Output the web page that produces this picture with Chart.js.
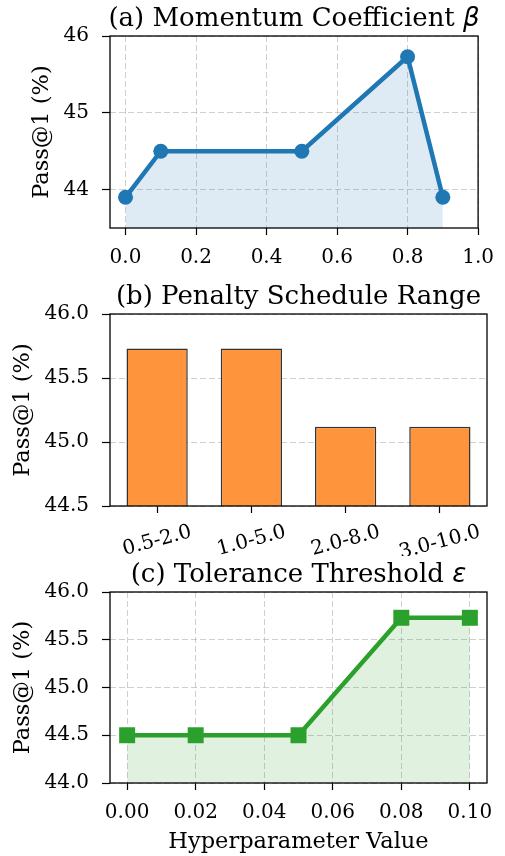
<!DOCTYPE html>
<html>
<head>
<meta charset="utf-8">
<script src="https://cdn.jsdelivr.net/npm/chart.js@4.4.1/dist/chart.umd.min.js"></script>
<style>
  html, body { margin: 0; padding: 0; background: #fff; }
  #wrap { position: relative; width: 505px; height: 856px; }
  canvas { position: absolute; left: 0; }
</style>
</head>
<body>
<div id="wrap">
  <canvas id="chartA" width="505" height="278" style="top:0"></canvas>
  <canvas id="chartB" width="505" height="278" style="top:278px"></canvas>
  <canvas id="chartC" width="505" height="300" style="top:556px"></canvas>
</div>
<script>
// (a) momentum coefficient
const momentumX = [0.0, 0.1, 0.5, 0.8, 0.9];
const momentumY = [43.9, 44.5, 44.5, 45.73, 43.9];
const momentumXTicks = [0.0, 0.2, 0.4, 0.6, 0.8, 1.0];
const momentumYTicks = [44, 45, 46];

// (b) penalty schedule range
const penaltyLabels = ['0.5-2.0', '1.0-5.0', '2.0-8.0', '3.0-10.0'];
const penaltyY = [45.73, 45.73, 45.12, 45.12];
const penaltyYTicks = [44.5, 45.0, 45.5, 46.0];

// (c) tolerance threshold
const toleranceX = [0.00, 0.02, 0.05, 0.08, 0.10];
const toleranceY = [44.5, 44.5, 44.5, 45.73, 45.73];
const toleranceXTicks = [0.00, 0.02, 0.04, 0.06, 0.08, 0.10];
const toleranceYTicks = [44.0, 44.5, 45.0, 45.5, 46.0];

const FONT = 'DejaVu Serif';
const TICK_SIZE = 20;
const LABEL_SIZE = 22.5;
const gridColor = 'rgba(175,175,175,0.6)';

// black frame round the plot area, like the matplotlib spines
const framePlugin = {
  id: 'frame',
  afterDatasetsDraw(chart) {
    const { ctx, chartArea: a } = chart;
    ctx.save();
    ctx.strokeStyle = '#000';
    ctx.lineWidth = 1.3;
    ctx.strokeRect(a.left, a.top, a.right - a.left, a.bottom - a.top);
    ctx.restore();
  }
};

// panel title: serif text followed by an italic greek symbol
const panelTitle = {
  id: 'panelTitle',
  afterDraw(chart, args, opts) {
    const { ctx, chartArea: a } = chart;
    const mainFont = '26px "' + FONT + '"';
    const symFont = 'italic 26px "DejaVu Sans"';
    ctx.save();
    ctx.fillStyle = '#000';
    ctx.textBaseline = 'alphabetic';
    ctx.textAlign = 'left';
    ctx.font = mainFont;
    const w1 = ctx.measureText(opts.main).width;
    ctx.font = symFont;
    const w2 = opts.symbol ? ctx.measureText(opts.symbol).width : 0;
    const x0 = (a.left + a.right) / 2 - (w1 + w2) / 2;
    const y = a.top - 10;
    ctx.font = mainFont;
    ctx.fillText(opts.main, x0, y);
    if (opts.symbol) {
      ctx.font = symFont;
      ctx.fillText(opts.symbol, x0 + w1, y);
    }
    ctx.restore();
  }
};

// rotated, centred category labels for the bar panel
const rotatedLabels = {
  id: 'rotatedLabels',
  afterDraw(chart) {
    const { ctx } = chart;
    const xs = chart.scales.x;
    const ang = 15 * Math.PI / 180;
    ctx.save();
    ctx.font = TICK_SIZE + 'px "' + FONT + '"';
    ctx.fillStyle = '#000';
    ctx.textAlign = 'center';
    ctx.textBaseline = 'middle';
    penaltyLabels.forEach((lab, i) => {
      const w = ctx.measureText(lab).width;
      const bh = w * Math.sin(ang) + TICK_SIZE * Math.cos(ang);
      const x = xs.getPixelForValue(i);
      const y = xs.top + 16 + bh / 2;
      ctx.save();
      ctx.translate(x, y);
      ctx.rotate(-ang);
      ctx.fillText(lab, 0, 0);
      ctx.restore();
    });
    ctx.restore();
  }
};

function yAxis(min, max, ticks, digits, titlePad) {
  return {
    type: 'linear',
    min: min,
    max: max,
    afterBuildTicks: s => { s.ticks = ticks.map(v => ({ value: v })); },
    afterFit: s => { s.width = 110; },
    ticks: {
      color: '#000',
      padding: 13,
      font: { family: FONT, size: TICK_SIZE },
      callback: v => Number(v).toFixed(digits)
    },
    grid: {
      display: true,
      color: gridColor,
      lineWidth: 1,
      tickLength: 8,
      tickColor: '#000',
      tickWidth: 1.2,
      tickBorderDash: []
    },
    border: { display: false, dash: [6, 3] },
    title: {
      display: true,
      text: 'Pass@1 (%)',
      color: '#000',
      font: { family: FONT, size: LABEL_SIZE, lineHeight: 1.2 },
      padding: { top: titlePad, bottom: 0 }
    }
  };
}

function xLinear(min, max, ticks, digits, height, title) {
  const ax = {
    type: 'linear',
    min: min,
    max: max,
    afterBuildTicks: s => { s.ticks = ticks.map(v => ({ value: v })); },
    afterFit: s => { s.height = height; },
    ticks: {
      color: '#000',
      padding: 11,
      maxRotation: 0,
      font: { family: FONT, size: TICK_SIZE },
      callback: v => Number(v).toFixed(digits)
    },
    grid: {
      color: gridColor,
      lineWidth: 1,
      tickLength: 7,
      tickColor: '#000',
      tickWidth: 1.2,
      tickBorderDash: []
    },
    border: { display: false, dash: [6, 3] }
  };
  if (title) {
    ax.title = {
      display: true,
      text: title,
      color: '#000',
      font: { family: FONT, size: LABEL_SIZE, lineHeight: 1.2 },
      padding: { top: 0, bottom: 0 }
    };
  }
  return ax;
}

const baseOptions = {
  responsive: false,
  animation: false,
  layout: { padding: { left: 0, right: 18, top: 36, bottom: 0 } },
  events: []
};

// (a)
new Chart(document.getElementById('chartA'), {
  type: 'line',
  data: {
    datasets: [{
      data: momentumX.map((x, i) => ({ x: x, y: momentumY[i] })),
      borderColor: '#1f77b4',
      backgroundColor: 'rgba(31,119,180,0.15)',
      pointBackgroundColor: '#1f77b4',
      pointBorderWidth: 0,
      pointRadius: 7.5,
      borderWidth: 4.5,
      fill: 'start',
      tension: 0
    }]
  },
  options: Object.assign({}, baseOptions, {
    plugins: { legend: { display: false }, tooltip: { enabled: false },
      panelTitle: { main: '(a) Momentum Coefficient ', symbol: 'β' } },
    scales: {
      x: xLinear(-0.044, 1.0, momentumXTicks, 1, 50, null),
      y: yAxis(43.5, 46, momentumYTicks, 0, 28.5)
    }
  }),
  plugins: [framePlugin, panelTitle]
});

// (b)
const xB = {
  type: 'category',
  offset: true,
  afterFit: s => { s.height = 50; },
  ticks: { display: false },
  grid: {
    offset: false,
    drawOnChartArea: false,
    tickLength: 7,
    tickColor: '#000',
    tickWidth: 1.2
  },
  border: { display: false }
};
new Chart(document.getElementById('chartB'), {
  type: 'bar',
  data: {
    labels: penaltyLabels,
    datasets: [{
      data: penaltyY,
      backgroundColor: '#fe953c',
      borderColor: '#333333',
      borderWidth: 1.5,
      barPercentage: 0.65,
      categoryPercentage: 1.0
    }]
  },
  options: Object.assign({}, baseOptions, {
    plugins: { legend: { display: false }, tooltip: { enabled: false },
      panelTitle: { main: '(b) Penalty Schedule Range', symbol: '' } },
    scales: {
      x: xB,
      y: yAxis(44.5, 46.0, penaltyYTicks, 1, 9.5)
    }
  }),
  plugins: [framePlugin, rotatedLabels, panelTitle]
});

// (c)
new Chart(document.getElementById('chartC'), {
  type: 'line',
  data: {
    datasets: [{
      data: toleranceX.map((x, i) => ({ x: x, y: toleranceY[i] })),
      borderColor: '#2ca02c',
      backgroundColor: 'rgba(44,160,44,0.15)',
      pointBackgroundColor: '#2ca02c',
      pointBorderWidth: 0,
      pointStyle: 'rect',
      pointRadius: 11.3,
      borderWidth: 4.5,
      fill: 'start',
      tension: 0
    }]
  },
  options: Object.assign({}, baseOptions, {
    plugins: { legend: { display: false }, tooltip: { enabled: false },
      panelTitle: { main: '(c) Tolerance Threshold ', symbol: 'ε' } },
    scales: {
      x: xLinear(-0.005, 0.105, toleranceXTicks, 2, 73, 'Hyperparameter Value'),
      y: yAxis(44.0, 46.0, toleranceYTicks, 1, 9.5)
    }
  }),
  plugins: [framePlugin, panelTitle]
});
</script>
</body>
</html>
